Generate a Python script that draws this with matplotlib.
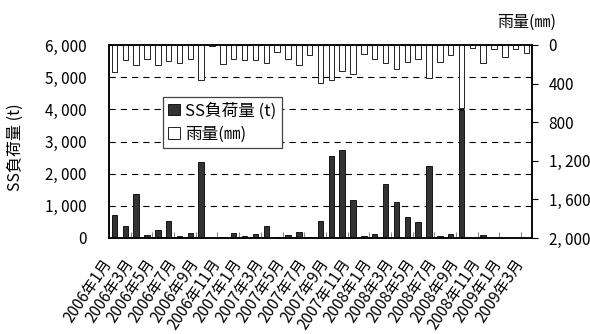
import matplotlib
matplotlib.use("Agg")
import matplotlib.pyplot as plt
from matplotlib.patches import Patch
from matplotlib.transforms import ScaledTranslation
import numpy as np

plt.rcParams['font.family'] = ['Noto Sans CJK JP', 'DejaVu Sans']
plt.rcParams['lines.scale_dashes'] = False

# Monthly periods, January 2006 to March 2009
years = [2006, 2007, 2008, 2009]
months = [f"{y}年{m}月" for y in years for m in range(1, 13)][:39]

# Monthly suspended-solids load (t)
ss_load = [700, 370, 1370, 100, 250, 540, 60, 150, 2350, 0,
           30, 170, 60, 115, 370, 30, 90, 190, 30, 540,
           2550, 2740, 1170, 60, 120, 1670, 1120, 640, 500, 2230,
           60, 110, 3980, 10, 90, 10, 15, 15, 5]

# Monthly rainfall (mm)
rainfall = [276, 155, 210, 150, 205, 168, 182, 147, 358, 8,
            197, 140, 155, 158, 185, 76, 142, 207, 100, 397,
            363, 266, 300, 93, 148, 190, 252, 173, 148, 345,
            180, 104, 656, 30, 190, 40, 128, 40, 80]

load_ticks = [0, 1000, 2000, 3000, 4000, 5000, 6000]
load_ticklabels = ["0", "1, 000", "2, 000", "3, 000", "4, 000", "5, 000", "6, 000"]
rain_ticks = [0, 400, 800, 1200, 1600, 2000]
rain_ticklabels = ["0", "400", "800", "1, 200", "1, 600", "2, 000"]

W, H = 590, 334
fig = plt.figure(figsize=(W / 100, H / 100), dpi=100)
ax = fig.add_axes([109 / W, 1 - 238 / H, (532 - 109) / W, (238 - 45) / H])

x = np.arange(len(months))
ax.bar(x, ss_load, width=0.5, color='#333333', edgecolor='black',
       linewidth=0.6, zorder=3)
ax.set_xlim(-0.5, len(months) - 0.5)
ax.set_ylim(0, 6000)
ax.set_yticks(load_ticks)
ax.set_yticklabels(load_ticklabels, fontsize=11)
ax.tick_params(axis='y', length=0, pad=16)
ax.yaxis.grid(True, color='black', linestyle=(0, (4.5, 3.6)), linewidth=0.8)
ax.set_axisbelow(True)

ax.set_xticks(x[::2])
ax.set_xticklabels(months[::2], rotation=56, ha='right', va='center',
                   rotation_mode='anchor', fontsize=11)
ax.tick_params(axis='x', which='major', length=0, pad=16)
shift = ScaledTranslation(-6 / 100, 0, fig.dpi_scale_trans)
for lab in ax.get_xticklabels():
    lab.set_transform(lab.get_transform() + shift)
ax.set_xticks(np.arange(1.5, len(months) - 1, 2), minor=True)
ax.tick_params(axis='x', which='minor', direction='in', length=4,
               color='#888888', width=0.8)

for s in ax.spines.values():
    s.set_linewidth(1.1)
    s.set_color('black')

ax2 = ax.twinx()
ax2.bar(x, rainfall, width=0.5, color='white', edgecolor='black',
        linewidth=0.6, zorder=3)
ax2.set_ylim(2000, 0)
ax2.set_yticks(rain_ticks)
ax2.set_yticklabels(rain_ticklabels, fontsize=11)
ax2.tick_params(axis='y', direction='out', length=4, width=0.8, pad=8)
for s in ax2.spines.values():
    s.set_linewidth(1.1)
    s.set_color('black')

handles = [Patch(facecolor='#333333', edgecolor='black', linewidth=0.6),
           Patch(facecolor='white', edgecolor='black', linewidth=0.6)]
leg = ax2.legend(handles, ["SS負荷量 (t)", "雨量(㎜)"],
                 loc='upper left', bbox_to_anchor=(163 / W, 1 - 97 / H),
                 bbox_transform=fig.transFigure, fontsize=12,
                 fancybox=False, framealpha=1, edgecolor='#444444',
                 borderpad=0.3, handlelength=0.7, handleheight=0.7,
                 handletextpad=0.35, labelspacing=0.4, borderaxespad=0)
leg.get_frame().set_linewidth(0.9)

fig.text(15 / W, 1 - 147 / H, "SS負荷量 (t)", rotation=90,
         ha='center', va='center', fontsize=11.5)
fig.text(527 / W, 1 - 22 / H, "雨量(㎜)", ha='center', va='center',
         fontsize=11.5)

fig.savefig("out.png", dpi=100)
